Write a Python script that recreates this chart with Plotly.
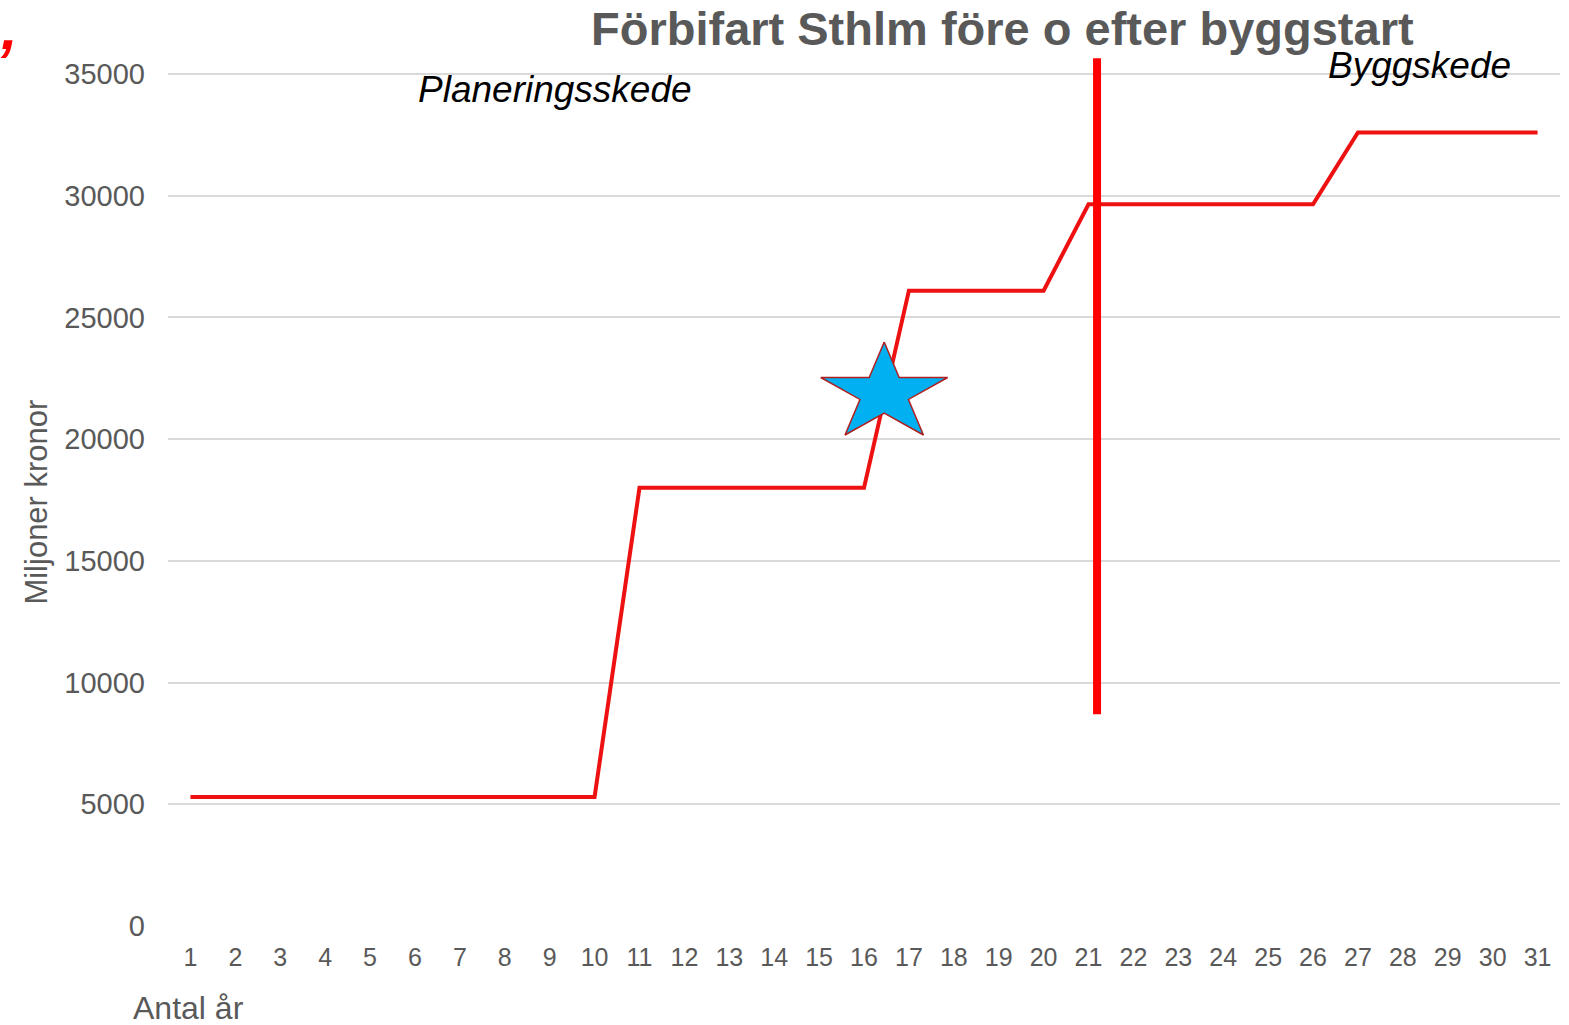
import numpy as np
import plotly.graph_objects as go

years = list(range(1, 32))
cost = [5300]*10 + [18000]*6 + [26100]*4 + [29650]*6 + [32600]*5
y_ticks = [0, 5000, 10000, 15000, 20000, 25000, 30000, 35000]
y_ticktext = ["0", "5000", "10000", "15000", "20000", "25000", "30000", "35000"]

star_center = (16.45, 21880)
star_rx, star_ry = 1.486, 2112  # radii in data units
build_start_x = 21.19
build_line_y = [8700, 35650]

# star polygon from center and radii
ang = np.pi/2 + np.arange(10) * np.pi/5
rad = np.where(np.arange(10) % 2 == 0, 1.0, 0.382)
sx = star_center[0] + star_rx * rad * np.cos(ang)
sy = star_center[1] + star_ry * rad * np.sin(ang)
sx = np.append(sx, sx[0]); sy = np.append(sy, sy[0])

fig = go.Figure()
fig.add_trace(go.Scatter(x=years, y=cost, mode="lines",
                         line=dict(color="#EE1111", width=4), showlegend=False))
fig.add_trace(go.Scatter(x=[build_start_x, build_start_x], y=build_line_y, mode="lines",
                         line=dict(color="#FF0000", width=8), showlegend=False))
fig.add_trace(go.Scatter(x=sx, y=sy, mode="lines", fill="toself", fillcolor="#00B0F0",
                         line=dict(color="#B02020", width=1.5), showlegend=False))

font = "Liberation Sans, Arial, sans-serif"
W, H = 1569, 1025
pl, pr, pt, pb = 167.5, 8.5, 57, 99
fig.update_layout(
    width=W, height=H, autosize=False,
    margin=dict(l=pl, r=pr, t=pt, b=pb),
    plot_bgcolor="white", paper_bgcolor="white",
    xaxis=dict(range=[0.5, 31.5], tickvals=years, ticktext=[str(y) for y in years],
               showgrid=False, zeroline=False, showline=False, ticks="",
               tickfont=dict(family=font, size=25, color="#595959"), ticklabelstandoff=14),
    yaxis=dict(range=[0, 35700], tickvals=y_ticks, ticktext=y_ticktext, showgrid=True,
               gridcolor="#D9D9D9", gridwidth=1.5, zeroline=False, showline=False, ticks="",
               tickfont=dict(family=font, size=29, color="#595959"), ticklabelstandoff=22),
)

pw, ph = W - pl - pr, H - pt - pb
def px(x): return (x - pl) / pw
def py(y): return (H - pb - y) / ph

texts = [
    ("<b>Förbifart Sthlm före o efter byggstart</b>", 1003, 29, 47, "#595959", 0),
    ("<i>Planeringsskede</i>", 555, 90, 37, "black", 0),
    ("<i>Byggskede</i>", 1420, 66, 37, "black", 0),
    ("Miljoner kronor", 35, 502, 31, "#595959", -90),
    ("Antal år", 188, 1008, 32, "#595959", 0),
    ("<b><i>,</i></b>", 8, 28, 60, "#FF0000", 0),
]
fig.update_layout(annotations=[
    dict(text=t, x=px(x), y=py(y), xref="paper", yref="paper", showarrow=False,
         xanchor="center", yanchor="middle", textangle=ang_,
         font=dict(family=font, size=s, color=c))
    for t, x, y, s, c, ang_ in texts
])

fig.write_html("out.html", config={"displayModeBar": False},
               post_script="document.body.style.margin='0';document.body.style.overflow='hidden';")
